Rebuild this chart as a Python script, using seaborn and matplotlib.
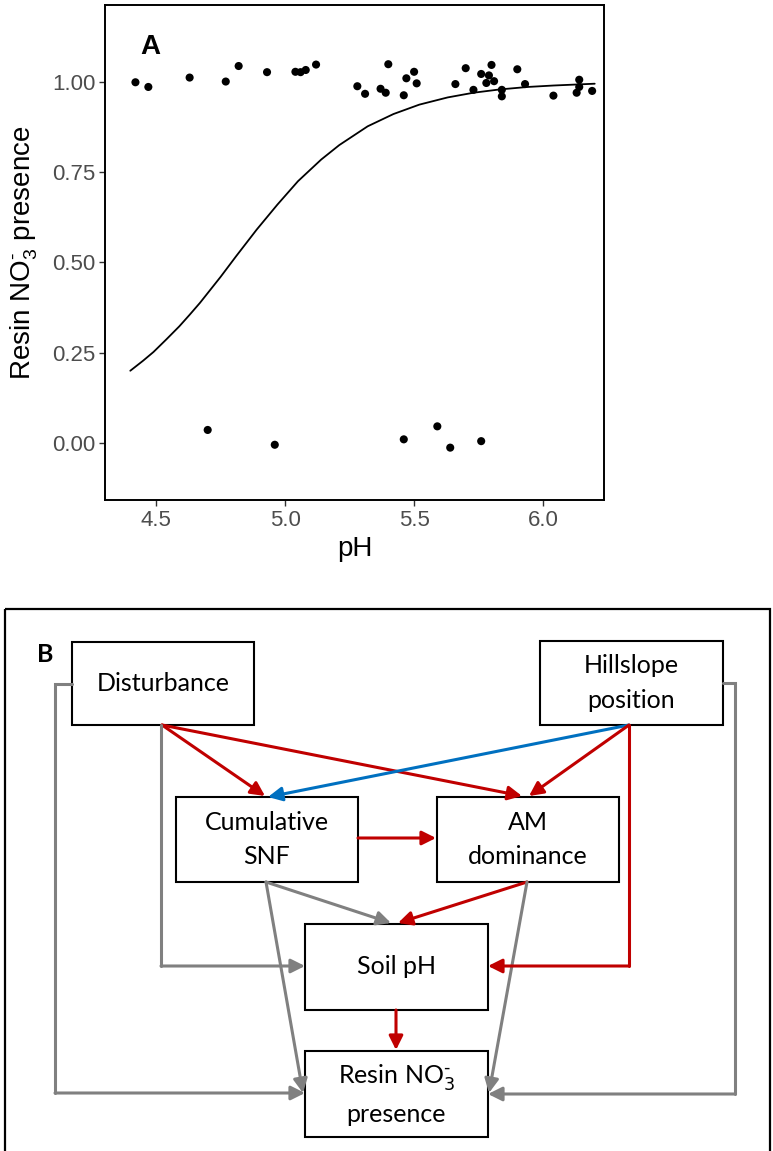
import numpy as np
import pandas as pd
import matplotlib
matplotlib.use("Agg")
import matplotlib.pyplot as plt
from matplotlib.patches import Rectangle
import seaborn as sns

# panel A data: resin nitrate presence vs soil pH (points jittered around 0 / 1)
ph_present = [4.42, 4.47, 4.63, 4.77, 4.82, 4.93, 5.04, 5.06, 5.08, 5.12,
              5.28, 5.31, 5.37, 5.39, 5.40, 5.46, 5.47, 5.50, 5.51, 5.66,
              5.70, 5.73, 5.76, 5.79, 5.80, 5.78, 5.81, 5.84, 5.84, 5.90,
              5.93, 6.04, 6.14, 6.14, 6.13, 6.19]
no3_present = [0.999, 0.986, 1.012, 1.001, 1.044, 1.027, 1.028, 1.027, 1.033, 1.048,
               0.988, 0.967, 0.981, 0.970, 1.049, 0.963, 1.010, 1.028, 0.996, 0.994,
               1.038, 0.978, 1.022, 1.018, 1.047, 0.997, 1.002, 0.978, 0.960, 1.035,
               0.994, 0.962, 1.006, 0.986, 0.970, 0.975]
ph_absent = [4.70, 4.96, 5.46, 5.59, 5.64, 5.76]
no3_absent = [0.036, -0.005, 0.010, 0.046, -0.013, 0.005]

# fitted logistic curve
fit_ph = [4.40, 4.45, 4.49, 4.54, 4.59, 4.63, 4.67, 4.71, 4.75, 4.81, 4.89, 4.97,
          5.05, 5.14, 5.21, 5.32, 5.42, 5.52, 5.63, 5.73, 5.83, 5.94, 6.04, 6.20]
fit_p = [0.200, 0.228, 0.252, 0.287, 0.323, 0.355, 0.388, 0.424, 0.460, 0.517,
         0.591, 0.660, 0.725, 0.785, 0.825, 0.877, 0.911, 0.937, 0.957, 0.970,
         0.979, 0.986, 0.990, 0.995]

# panel B: path diagram
node_names = ["dist", "hill", "snf", "am", "ph", "resin"]
node_labels = ["Disturbance", "Hillslope\nposition", "Cumulative\nSNF",
               "AM\ndominance", "Soil pH", r"Resin NO$_3^{\text{-}}$" + "\npresence"]
edge_from = ["dist", "dist", "hill", "hill", "snf", "snf", "am", "snf", "am", "ph",
             "dist", "dist", "hill", "hill"]
edge_to = ["snf", "am", "snf", "am", "am", "ph", "ph", "resin", "resin", "resin",
           "resin", "ph", "ph", "resin"]
edge_sign = ["pos", "pos", "neg", "pos", "pos", "ns", "pos", "ns", "ns", "pos",
             "ns", "ns", "pos", "ns"]

# layout (pixels, y downwards)
box_pos = {
    "dist": (72, 642, 254, 725),
    "hill": (540, 641, 723, 725),
    "snf": (176, 797, 358, 882),
    "am": (437, 797, 619, 882),
    "ph": (305, 924, 488, 1010),
    "resin": (305, 1051, 488, 1137),
}
routes = [
    [(162, 725), (265, 796)],
    [(162, 725), (522, 796)],
    [(629, 725), (268, 797)],
    [(629, 725), (529, 796)],
    [(358, 838), (436, 838)],
    [(266, 882), (391, 923)],
    [(527, 882), (398, 923)],
    [(266, 882), (303, 1093)],
    [(527, 882), (489, 1093)],
    [(396, 1010), (396, 1050)],
    [(72, 684), (55, 684), (55, 1093), (305, 1093)],
    [(161, 725), (161, 966), (305, 966)],
    [(629, 725), (629, 966), (488, 966)],
    [(723, 683), (735, 683), (735, 1094), (488, 1094)],
]
sign_color = {"pos": "#C00000", "neg": "#0070C0", "ns": "#808080"}

sns.set_theme(style="ticks")
plt.rcParams["font.family"] = ["Liberation Sans", "DejaVu Sans"]
plt.rcParams["text.color"] = "black"
plt.rcParams["axes.labelcolor"] = "black"
plt.rcParams["mathtext.fontset"] = "custom"
plt.rcParams["mathtext.rm"] = "Liberation Sans"
plt.rcParams["mathtext.it"] = "Liberation Sans"

W, H = 773, 1151
fig = plt.figure(figsize=(W / 100, H / 100), dpi=100)

# ---- panel A
ax = fig.add_axes([105 / W, 1 - 500 / H, 499 / W, 495 / H])
pts = pd.DataFrame({"pH": ph_present + ph_absent, "no3": no3_present + no3_absent})
fit = pd.DataFrame({"pH": fit_ph, "p": fit_p})
sns.scatterplot(data=pts, x="pH", y="no3", color="black", s=34, edgecolor="none", ax=ax, zorder=3)
sns.lineplot(data=fit, x="pH", y="p", color="black", lw=1.3, estimator=None, sort=False, ax=ax)
ax.set_xlim(4.302, 6.236)
ax.set_ylim(-0.158, 1.213)
ax.set_xticks([4.5, 5.0, 5.5, 6.0])
ax.set_xticklabels(["4.5", "5.0", "5.5", "6.0"])
ax.set_yticks([0, 0.25, 0.5, 0.75, 1.0])
ax.set_yticklabels(["0.00", "0.25", "0.50", "0.75", "1.00"])
ax.tick_params(labelsize=16, labelcolor="#4D4D4D", color="#333333", length=4, width=1, pad=3)
for sp in ax.spines.values():
    sp.set_visible(True)
    sp.set_color("black")
    sp.set_linewidth(1.4)
ax.set_xlabel("pH", fontsize=20)
ax.set_ylabel(r"Resin NO$_3^{\text{-}}$ presence", fontsize=20)
ax.xaxis.set_label_coords(0.5, -0.072)
ax.yaxis.set_label_coords(-0.13, 0.5)
ax.text(0.09, 0.915, "A", transform=ax.transAxes, fontsize=20, fontweight="bold", va="center", ha="center")

# ---- panel B
bx = fig.add_axes([0, 0, 1, 551 / H])
bx.set_xlim(0, W)
bx.set_ylim(H, 600)
bx.axis("off")
bx.add_patch(Rectangle((5, 609), 765, 700, fill=False, ec="black", lw=1.6))
bx.text(45, 654, "B", fontsize=18, fontweight="bold", ha="center", va="center",
        family=["Lato", "DejaVu Sans"])

for route, sign in zip(routes, edge_sign):
    col = sign_color[sign]
    xs = [p[0] for p in route]
    ys = [p[1] for p in route]
    if len(route) > 2:
        bx.plot(xs[:-1], ys[:-1], color=col, lw=2.2, solid_joinstyle="miter", zorder=2)
    bx.annotate("", xy=route[-1], xytext=route[-2],
                arrowprops=dict(arrowstyle="-|>", color=col, lw=2.2,
                                mutation_scale=21, shrinkA=0, shrinkB=0),
                zorder=2)

for name, label in zip(node_names, node_labels):
    x0, y0, x1, y1 = box_pos[name]
    bx.add_patch(Rectangle((x0, y0), x1 - x0, y1 - y0, fc="white", ec="black", lw=1.5, zorder=1))
    bx.text((x0 + x1) / 2, (y0 + y1) / 2, label, ha="center", va="center",
            fontsize=18, linespacing=1.6, family=["Lato", "DejaVu Sans"], zorder=3,
            math_fontfamily="dejavusans")

fig.savefig("out.png", dpi=100)
